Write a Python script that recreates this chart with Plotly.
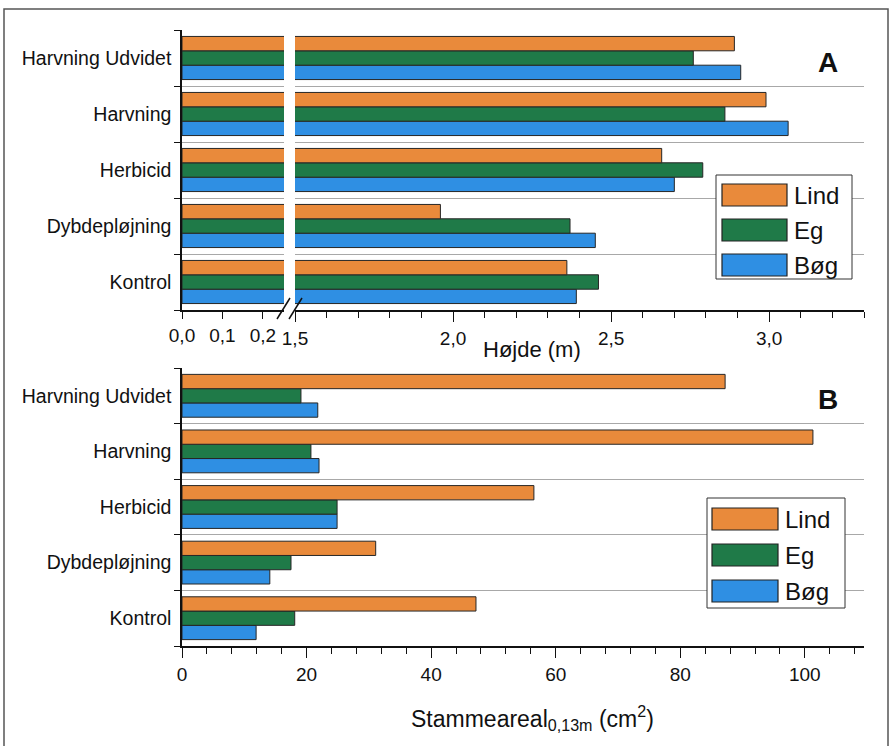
import plotly.graph_objects as go

# ---------------- data ----------------
categories = ["Kontrol", "Dybdepløjning", "Herbicid", "Harvning", "Harvning Udvidet"]
species = ["Lind", "Eg", "Bøg"]
colors = {"Lind": "#E98A3B", "Eg": "#1F7A48", "Bøg": "#2F8FE3"}

hojde = {
    "Lind": [2.36, 1.96, 2.66, 2.99, 2.89],
    "Eg":   [2.46, 2.37, 2.79, 2.86, 2.76],
    "Bøg":  [2.39, 2.45, 2.70, 3.06, 2.91],
}
areal = {
    "Lind": [47.2, 31.1, 56.5, 101.3, 87.2],
    "Eg":   [18.1, 17.5, 24.9, 20.7, 19.1],
    "Bøg":  [11.9, 14.1, 24.9, 22.0, 21.8],
}
left_ticks = [0.0, 0.1, 0.2]

# ---------------- layout geometry (pixels) ----------------
W, H = 892, 746
L, R, T, B = 182, 28, 30, 100
PW, PH = W - L - R, H - T - B


def px(x):
    return (x - L) / PW


def py(y):
    return (H - B - y) / PH


FONT = "Liberation Sans, Arial, sans-serif"
idx = list(range(len(categories)))
bounds = [i - 0.5 for i in range(len(categories) + 1)]

fig = go.Figure()
for sp in ["Bøg", "Eg", "Lind"]:
    common = dict(orientation="h", name=sp, showlegend=False,
                  marker=dict(color=colors[sp], line=dict(color="#262626", width=1)))
    fig.add_trace(go.Bar(x=hojde[sp], y=idx, xaxis="x", yaxis="y", **common))
    fig.add_trace(go.Bar(x=hojde[sp], y=idx, xaxis="x3", yaxis="y", **common))
    fig.add_trace(go.Bar(x=areal[sp], y=idx, xaxis="x2", yaxis="y2", **common))

catfont = dict(family=FONT, size=19.5, color="#111")
numfont = dict(family=FONT, size=19, color="#111")
yaxis_common = dict(
    range=[-0.5, len(categories) - 0.5], tickvals=idx, ticktext=categories,
    ticks="outside", ticklen=5, tickcolor="rgba(0,0,0,0)",
    showgrid=False, zeroline=False, showline=True, linecolor="#111", linewidth=1.5,
    tickfont=catfont,
    minor=dict(tickvals=bounds, ticks="outside", ticklen=6, tickcolor="#111",
               showgrid=True, gridcolor="#A8A8A8", gridwidth=1),
)
xline = dict(showline=True, linecolor="#111", linewidth=1.5, zeroline=False,
             showgrid=False, ticks="outside", tickcolor="#111", tickfont=numfont)

fig.update_layout(
    width=W, height=H,
    margin=dict(l=L, r=R, t=T, b=B),
    paper_bgcolor="white", plot_bgcolor="white",
    separators=", ",
    barmode="group", bargap=0.23, bargroupgap=0,
    xaxis=dict(domain=[0, px(284)], range=[0, 0.252], anchor="y",
               tickvals=left_ticks, tickformat=".1f", ticklen=7, **xline),
    xaxis3=dict(domain=[px(295), 1], range=[1.5, 3.30], anchor="y",
                tick0=1.5, dtick=0.5, tickformat=".1f", ticklen=10,
                minor=dict(dtick=0.1, ticks="outside", ticklen=6, tickcolor="#111"),
                **xline),
    yaxis=dict(domain=[py(310), 1], anchor="x", **yaxis_common),
    xaxis2=dict(domain=[0, 1], range=[0, 109.5], anchor="y2",
                dtick=20, ticklen=10,
                minor=dict(dtick=4, ticks="outside", ticklen=6, tickcolor="#111"),
                **xline),
    yaxis2=dict(domain=[0, py(368)], anchor="x2", **yaxis_common),
)

shapes = []
annotations = []

# axis-break slashes
for x0 in (277, 289):
    shapes.append(dict(type="line", xref="paper", yref="paper",
                       x0=px(x0), y0=py(319), x1=px(x0 + 13), y1=py(298),
                       line=dict(color="#111", width=1.5)))

# outer frame
shapes.append(dict(type="rect", xref="paper", yref="paper",
                   x0=px(4), y0=py(760), x1=px(888), y1=py(9),
                   line=dict(color="#555", width=1.5), layer="below"))


def add_legend(box, sw_x, text_x, rows):
    x0, y0, x1, y1 = box
    shapes.append(dict(type="rect", xref="paper", yref="paper",
                       x0=px(x0), y0=py(y1), x1=px(x1), y1=py(y0),
                       line=dict(color="#333", width=1), fillcolor="white", layer="above"))
    for sp, yc in zip(species, rows):
        shapes.append(dict(type="rect", xref="paper", yref="paper",
                           x0=px(sw_x[0]), y0=py(yc + 11), x1=px(sw_x[1]), y1=py(yc - 11),
                           line=dict(color="#222", width=1.2), fillcolor=colors[sp],
                           layer="above"))
        annotations.append(dict(xref="paper", yref="paper", x=px(text_x), y=py(yc),
                                text=sp, showarrow=False, xanchor="left", yanchor="middle",
                                font=dict(family=FONT, size=24, color="#111")))


add_legend((716, 175, 852, 279), (722, 787), 792, [195, 230, 265])
add_legend((707, 498, 845, 608), (712, 778), 783, [519, 555, 591])

# panel letters
for letter, yc in (("A", 62), ("B", 399)):
    annotations.append(dict(xref="paper", yref="paper", x=px(828), y=py(yc),
                            text=f"<b>{letter}</b>", showarrow=False,
                            xanchor="center", yanchor="middle",
                            font=dict(family=FONT, size=28, color="#111")))

# axis titles
annotations.append(dict(xref="paper", yref="paper", x=px(532), y=py(350),
                        text="Højde (m)", showarrow=False, xanchor="center",
                        yanchor="middle", font=dict(family=FONT, size=22, color="#111")))
annotations.append(dict(xref="paper", yref="paper", x=px(532), y=py(718),
                        text="Stammeareal<sub>0,13m</sub> (cm<sup>2</sup>)",
                        showarrow=False, xanchor="center", yanchor="middle",
                        font=dict(family=FONT, size=23, color="#111")))

fig.update_layout(shapes=shapes, annotations=annotations)
fig.write_html("out.html")
